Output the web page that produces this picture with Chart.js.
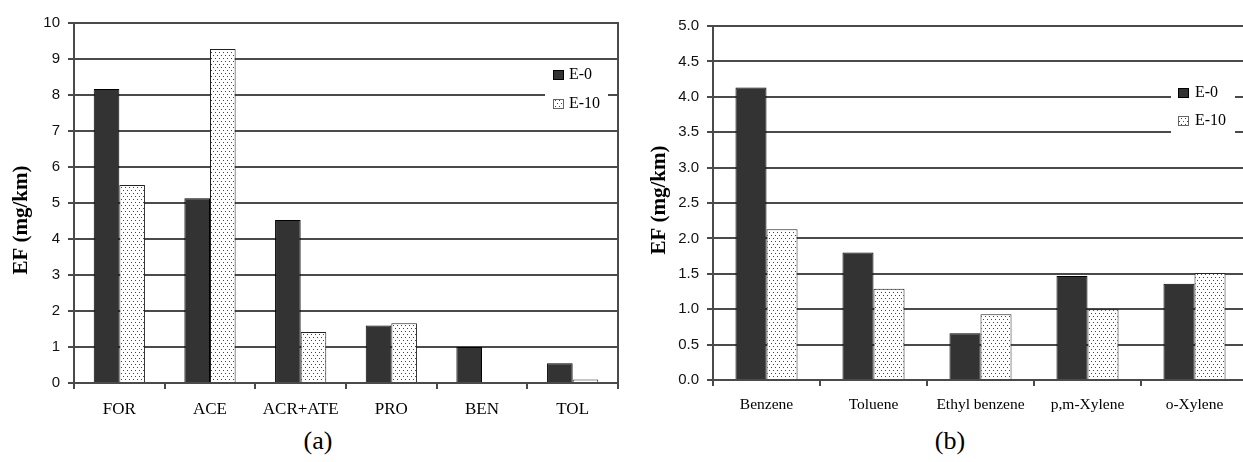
<!DOCTYPE html>
<html>
<head>
<meta charset="utf-8">
<script src="https://cdn.jsdelivr.net/npm/chart.js@4.4.1/dist/chart.umd.min.js"></script>
<style>
  html, body { margin: 0; padding: 0; background: #fff; overflow: hidden; width: 1243px; height: 462px; }
  .wrap { position: absolute; top: 0; height: 425px; }
  #wa { left: 0; width: 630px; }
  #wb { left: 630px; width: 640px; }
  .cap { position: absolute; top: 428px; font: 26px "Liberation Serif", "Times New Roman", serif; line-height: 26px; color: #000; transform: translateX(-50%); white-space: nowrap; }
</style>
</head>
<body>
<div class="wrap" id="wa"><canvas id="ca"></canvas></div>
<div class="wrap" id="wb"><canvas id="cb"></canvas></div>
<div class="cap" style="left:318px">(a)</div>
<div class="cap" style="left:950px">(b)</div>
<script>
// Panel (a): emission factors by compound group
const catsA = ['FOR', 'ACE', 'ACR+ATE', 'PRO', 'BEN', 'TOL'];
const e0A   = [8.17, 5.13, 4.53, 1.60, 1.00, 0.55];
const e10A  = [5.50, 9.28, 1.42, 1.66, 0.00, 0.10];

// Panel (b): aromatic compounds
const catsB = ['Benzene', 'Toluene', 'Ethyl benzene', 'p,m-Xylene', 'o-Xylene'];
const e0B   = [4.13, 1.80, 0.66, 1.47, 1.36];
const e10B  = [2.13, 1.29, 0.93, 1.00, 1.51];

const seriesNames = ['E-0', 'E-10'];
const yTitle = 'EF (mg/km)';

// dotted fill for the E-10 bars
function dotPattern() {
  const t = document.createElement('canvas');
  t.width = 4; t.height = 6;
  const g = t.getContext('2d');
  g.fillStyle = '#ffffff';
  g.fillRect(0, 0, 4, 6);
  g.fillStyle = '#444444';
  g.fillRect(1, 1, 1, 1);
  g.fillRect(3, 4, 1, 1);
  return g.createPattern(t, 'repeat');
}
const dots = dotPattern();

const GRID = '#4a4a4a';

// legend drawn inside the plot area on a white patch
const boxLegend = {
  id: 'boxLegend',
  afterDatasetsDraw(chart, args, o) {
    const { ctx, chartArea } = chart;
    const x = chartArea.right + o.dx, y = chartArea.top + o.dy;
    ctx.save();
    ctx.fillStyle = '#fff';
    ctx.fillRect(x, y, o.w, o.h);
    chart.data.datasets.forEach((ds, i) => {
      const bx = x + o.boxX, by = y + o.boxY + i * o.gap;
      ctx.fillStyle = ds.backgroundColor;
      ctx.fillRect(bx, by, 11, 10);
      ctx.strokeStyle = i === 0 ? '#000' : '#666';
      ctx.lineWidth = 1;
      ctx.strokeRect(bx + 0.5, by + 0.5, 10, 9);
      ctx.fillStyle = '#000';
      ctx.font = o.font;
      ctx.textBaseline = 'middle';
      ctx.textAlign = 'left';
      ctx.fillText(ds.label, x + o.textX, by + 5);
    });
    ctx.restore();
  }
};

// right-hand frame line of the plot area
const rightFrame = {
  id: 'rightFrame',
  beforeDatasetsDraw(chart) {
    const { ctx, chartArea } = chart;
    ctx.save();
    ctx.strokeStyle = GRID;
    ctx.lineWidth = 2;
    ctx.beginPath();
    const x = Math.round(chartArea.right);
    ctx.moveTo(x, chartArea.top - 1);
    ctx.lineTo(x, chartArea.bottom);
    ctx.stroke();
    ctx.restore();
  }
};

// rotated value-axis caption
const sideTitle = {
  id: 'sideTitle',
  afterDraw(chart, args, o) {
    const { ctx, chartArea } = chart;
    const cy = (chartArea.top + chartArea.bottom) / 2 + o.dy;
    ctx.save();
    ctx.translate(o.x, cy);
    ctx.rotate(-Math.PI / 2);
    ctx.fillStyle = '#000';
    ctx.font = 'bold 21px "Liberation Serif", "Times New Roman", serif';
    ctx.textAlign = 'center';
    ctx.textBaseline = 'middle';
    ctx.fillText(yTitle, 0, 0);
    ctx.restore();
  }
};

function makeChart(id, cats, a, b, cfg) {
  return new Chart(document.getElementById(id), {
    type: 'bar',
    data: {
      labels: cats,
      datasets: [
        { label: seriesNames[0], data: a, backgroundColor: '#333333', borderColor: '#000', borderWidth: 1 },
        { label: seriesNames[1], data: b, backgroundColor: dots, borderColor: '#222', borderWidth: 1 }
      ]
    },
    options: {
      responsive: true,
      maintainAspectRatio: false,
      animation: false,
      devicePixelRatio: 1,
      layout: { padding: { top: cfg.padTop, right: cfg.padRight, left: 0, bottom: 0 } },
      datasets: { bar: { categoryPercentage: cfg.catPct, barPercentage: 1 } },
      plugins: {
        legend: { display: false },
        tooltip: { enabled: false },
        boxLegend: cfg.legend,
        sideTitle: cfg.title
      },
      scales: {
        x: {
          offset: true,
          afterFit: s => { s.height = cfg.xHeight; },
          grid: { offset: true, drawOnChartArea: false, drawTicks: true, tickLength: 6, color: GRID, lineWidth: 2 },
          border: { display: true, color: GRID, width: 2 },
          ticks: {
            autoSkip: false, maxRotation: 0, minRotation: 0, padding: 10, color: '#000',
            font: { family: '"Liberation Serif", "Times New Roman", serif', size: cfg.xFont }
          }
        },
        y: {
          min: 0, max: cfg.max,
          afterFit: s => { s.width = cfg.yWidth; },
          grid: { color: GRID, lineWidth: 2, drawTicks: true, tickLength: 6 },
          border: { display: true, color: GRID, width: 2 },
          ticks: {
            stepSize: cfg.step, padding: 8, color: '#111',
            font: { family: '"Liberation Sans", Arial, sans-serif', size: 15 },
            callback: v => v.toFixed(cfg.dec)
          }
        }
      }
    },
    plugins: [boxLegend, rightFrame, sideTitle]
  });
}

makeChart('ca', catsA, e0A, e10A, {
  max: 10, step: 1, dec: 0, catPct: 0.565, xFont: 17,
  padTop: 23, padRight: 12, xHeight: 42, yWidth: 74,
  title: { x: 22, dy: 17 },
  legend: { dx: -73, dy: 39, w: 63, h: 53, boxX: 8, boxY: 8, gap: 29, textX: 24,
            font: '16px "Liberation Serif", "Times New Roman", serif' }
});

makeChart('cb', catsB, e0B, e10B, {
  max: 5, step: 0.5, dec: 1, catPct: 0.58, xFont: 15.5,
  padTop: 26, padRight: 22, xHeight: 45, yWidth: 83,
  title: { x: 30, dy: -3 },
  legend: { dx: -77, dy: 54, w: 64, h: 56, boxX: 7, boxY: 8, gap: 28, textX: 24,
            font: '16px "Liberation Serif", "Times New Roman", serif' }
});
</script>
</body>
</html>
